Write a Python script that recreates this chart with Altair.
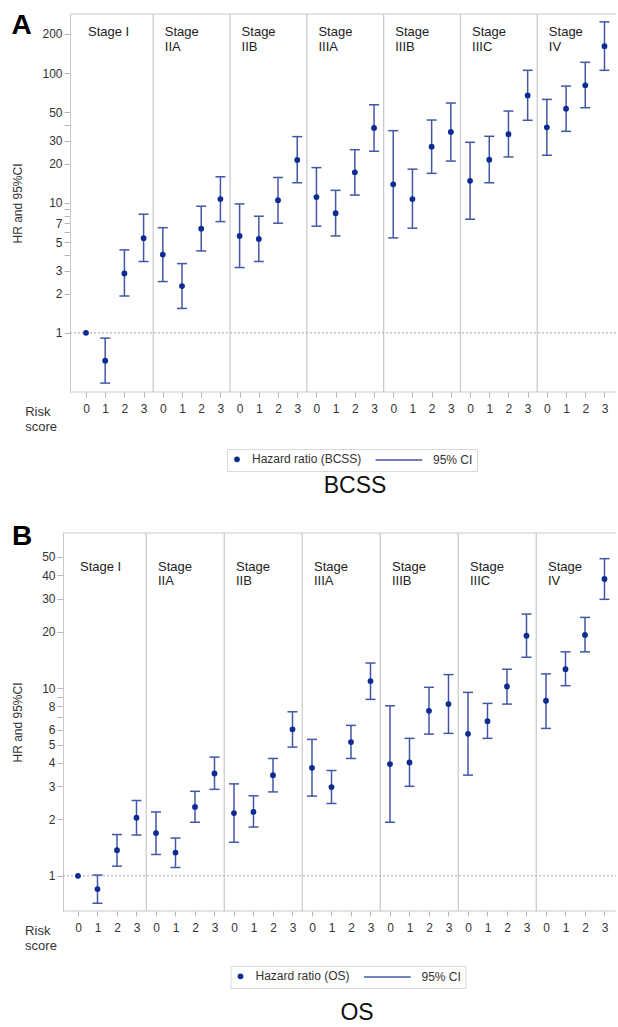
import altair as alt
import pandas as pd

FONT = "Liberation Sans"
PT_COLOR = "#0d2c91"
CI_COLOR = "#4257a6"
FRAME = "#c8c8c8"
TXT = "#333333"

stages = ["Stage I", "Stage IIA", "Stage IIB", "Stage IIIA", "Stage IIIB", "Stage IIIC", "Stage IV"]
stage_labels = ["Stage I", "Stage\nIIA", "Stage\nIIB", "Stage\nIIIA", "Stage\nIIIB", "Stage\nIIIC", "Stage\nIV"]
risk_scores = [0, 1, 2, 3]

# BCSS (panel A)
bcss_hr = [1.0, 0.61, 2.86, 5.35, 4.0, 2.29, 6.34, 10.7, 5.57, 5.28, 10.5, 21.4,
           11.1, 8.33, 17.2, 37.8, 13.9, 10.7, 27.1, 35.2, 14.8, 21.5, 33.8, 67.3,
           38.2, 53.2, 80.4, 161]
bcss_lo = [None, 0.41, 1.92, 3.54, 2.48, 1.54, 4.27, 7.18, 3.18, 3.54, 6.98, 14.3,
           6.62, 5.57, 11.5, 25.0, 5.38, 6.39, 16.9, 21.0, 7.49, 14.3, 22.6, 43.3,
           23.3, 35.6, 54.1, 105]
bcss_hi = [None, 0.91, 4.35, 8.19, 6.45, 3.41, 9.43, 15.9, 9.83, 7.9, 15.7, 32.4,
           18.7, 12.5, 25.7, 57.0, 36.0, 18.2, 43.5, 58.8, 29.3, 32.6, 51.0, 105,
           62.7, 79.4, 121, 248]

# OS (panel B)
os_hr = [1.0, 0.85, 1.37, 2.04, 1.69, 1.33, 2.33, 3.51, 2.16, 2.19, 3.44, 6.03,
         3.76, 2.97, 5.16, 10.9, 3.94, 4.02, 7.57, 8.22, 5.71, 6.67, 10.2, 19.0,
         8.56, 12.6, 19.2, 38.1]
os_lo = [None, 0.715, 1.126, 1.65, 1.3, 1.108, 1.93, 2.89, 1.51, 1.82, 2.8, 4.85,
         2.66, 2.43, 4.22, 8.71, 1.93, 3.0, 5.69, 5.74, 3.44, 5.4, 8.22, 14.6,
         6.1, 10.3, 15.6, 29.7]
os_hi = [None, 1.01, 1.66, 2.52, 2.19, 1.59, 2.82, 4.29, 3.09, 2.67, 4.22, 7.48,
         5.33, 3.64, 6.33, 13.6, 8.05, 5.4, 10.1, 11.8, 9.49, 8.29, 12.6, 24.8,
         11.9, 15.6, 23.8, 48.9]

bcss_ticks = [1, 2, 3, 4, 5, 6, 7, 8, 9, 10, 20, 30, 40, 50, 100, 200]
bcss_tick_labels = [1, 2, 3, 5, 7, 10, 20, 30, 50, 100, 200]
os_ticks = [1, 2, 3, 4, 5, 6, 7, 8, 9, 10, 20, 30, 40, 50]
os_tick_labels = [1, 2, 3, 4, 5, 6, 8, 10, 20, 30, 40, 50]


def make_df(hr, lo, hi, series):
    rows = []
    for s_i, st in enumerate(stages):
        for r in risk_scores:
            i = s_i * len(risk_scores) + r
            rows.append(dict(idx=i, stage=st, risk=r, hr=hr[i], lo=lo[i], hi=hi[i], series=series))
    return pd.DataFrame(rows)


stage_df = pd.DataFrame({"idx": [k * len(risk_scores) for k in range(len(stages))],
                         "label": stage_labels})
sep_df = pd.DataFrame({"idx": [k * len(risk_scores) - 0.5 for k in range(1, len(stages))]})
one_df = pd.DataFrame({"a": [0]})

H = 378
W = 546


def panel(hr, lo, hi, series, ydom, yticks, ylabels, xdom, frame_left, letter, letter_x, letter_y,
          ytitle_x, risk_x, stage_y, legend_x, legend_y, title, title_offset, title_dx):
    df = make_df(hr, lo, hi, series)
    n = len(df)
    xscale = alt.Scale(domain=xdom, nice=False, zero=False)
    yscale = alt.Scale(type="log", domain=ydom, nice=False)
    xaxis = alt.Axis(values=list(range(n)), labelExpr="'' + (datum.value % 4)",
                     title=["Risk", "score"], titleX=risk_x, titleY=23.5, titleAlign="left",
                     titleBaseline="alphabetic", titleFontSize=13, titleLineHeight=14.5,
                     titleAngle=0, tickSize=5, labelPadding=6, labelFlush=False, domain=False)
    lab = "[" + ",".join(str(v) for v in ylabels) + "]"
    yaxis = alt.Axis(values=yticks,
                     labelExpr=f"indexof({lab}, datum.value) >= 0 ? format(datum.value, 'd') : ''",
                     title="HR and 95%CI", titleX=ytitle_x, titleBaseline="middle",
                     tickSize=6, labelPadding=2, offset=-frame_left)
    X = alt.X("idx:Q", scale=xscale, axis=xaxis)

    border_top = alt.Chart(one_df).mark_rule(color=FRAME, strokeWidth=1).encode(
        x=alt.value(frame_left), x2=alt.value(W), y=alt.value(0))
    border_bot = alt.Chart(one_df).mark_rule(color=FRAME, strokeWidth=1).encode(
        x=alt.value(frame_left), x2=alt.value(W), y=alt.value(H))
    seps = alt.Chart(sep_df).mark_rule(color=FRAME, strokeWidth=1.2).encode(
        x=X, y=alt.value(0), y2=alt.value(H))
    ref = alt.Chart(one_df).mark_rule(color="#a8a8a8", strokeDash=[2, 2], strokeWidth=1).encode(
        y=alt.Y(datum=1, scale=yscale, axis=yaxis), x=alt.value(frame_left), x2=alt.value(W))
    base = alt.Chart(df)
    ci = base.transform_filter("isValid(datum.lo)").mark_rule(color=CI_COLOR, strokeWidth=1.5).encode(
        x=X, y=alt.Y("lo:Q", scale=yscale, axis=yaxis), y2="hi:Q")
    cap_lo = base.transform_filter("isValid(datum.lo)").mark_tick(
        orient="horizontal", size=10, thickness=1.5, color=CI_COLOR, opacity=1).encode(
        x=X, y=alt.Y("lo:Q", scale=yscale, axis=yaxis))
    cap_hi = base.transform_filter("isValid(datum.hi)").mark_tick(
        orient="horizontal", size=10, thickness=1.5, color=CI_COLOR, opacity=1).encode(
        x=X, y=alt.Y("hi:Q", scale=yscale, axis=yaxis))
    dom = [series, "95% CI"]
    leg = alt.Legend(orient="none", legendX=legend_x, legendY=legend_y, direction="horizontal",
                     title=None, labelFont=FONT, labelFontSize=12, labelColor=TXT,
                     strokeColor="#d9d9d9", padding=4, columnPadding=10, labelOffset=9,
                     symbolSize=8, symbolOpacity=1)
    pts = base.mark_point(filled=False, size=8, opacity=1).encode(
        x=X, y=alt.Y("hr:Q", scale=yscale, axis=yaxis),
        color=alt.Color("series:N", scale=alt.Scale(domain=dom, range=[PT_COLOR, CI_COLOR]), legend=leg),
        shape=alt.Shape("series:N", scale=alt.Scale(domain=dom, range=["circle", "M-30,0L3,0"]), legend=leg),
        strokeWidth=alt.StrokeWidth("series:N", scale=alt.Scale(type="ordinal", domain=dom, range=[3, 1.4]), legend=leg),
    )
    stxt = alt.Chart(stage_df).mark_text(align="left", baseline="alphabetic", dx=2, lineBreak="\n",
                                         lineHeight=14.5, fontSize=13, font=FONT, color="#222222").encode(
        x=X, y=alt.value(stage_y), text="label:N")
    let = alt.Chart(one_df).mark_text(align="left", baseline="alphabetic", fontSize=28, fontWeight="bold",
                                      font=FONT, color="#000000").encode(
        x=alt.value(letter_x), y=alt.value(letter_y), text=alt.value(letter))
    return alt.layer(border_top, border_bot, seps, ref, ci, cap_lo, cap_hi, pts, stxt, let).properties(
        width=W, height=H,
        title=alt.TitleParams(text=title, orient="bottom", anchor="middle", frame="group",
                              fontSize=23, font=FONT, fontWeight="normal", color="#111111",
                              offset=title_offset, dx=title_dx))


top = panel(bcss_hr, bcss_lo, bcss_hi, "Hazard ratio (BCSS)", [0.35, 285], bcss_ticks, bcss_tick_labels,
            [-0.833, 27.6], 0, "A", -58.5, 19.5, -53, -45.3, 22.4, 157, 435, "BCSS", 3, 12)
bottom = panel(os_hr, os_lo, os_hi, "Hazard ratio (OS)", [0.65, 67], os_ticks, os_tick_labels,
               [-0.41, 27.59], -7, "B", -58, 12, -46, -45.4, 37.5, 160.5, 433, "OS", 13, 14)

chart = alt.concat(top, bottom, columns=1, spacing=25, align="none").resolve_scale(
    x="independent", y="independent", color="independent", shape="independent",
    strokeWidth="independent").properties(
    padding={"left": 11, "top": 11, "right": 0, "bottom": 0}
).configure_view(stroke=None).configure_axis(
    labelFont=FONT, titleFont=FONT, labelFontSize=12, titleFontSize=12, labelColor=TXT,
    titleColor=TXT, titleFontWeight="normal", domainColor=FRAME, tickColor="#b5b5b5", grid=False
).configure_legend(labelFont=FONT)

chart.save("out.html", embed_options={"renderer": "svg", "actions": False})
